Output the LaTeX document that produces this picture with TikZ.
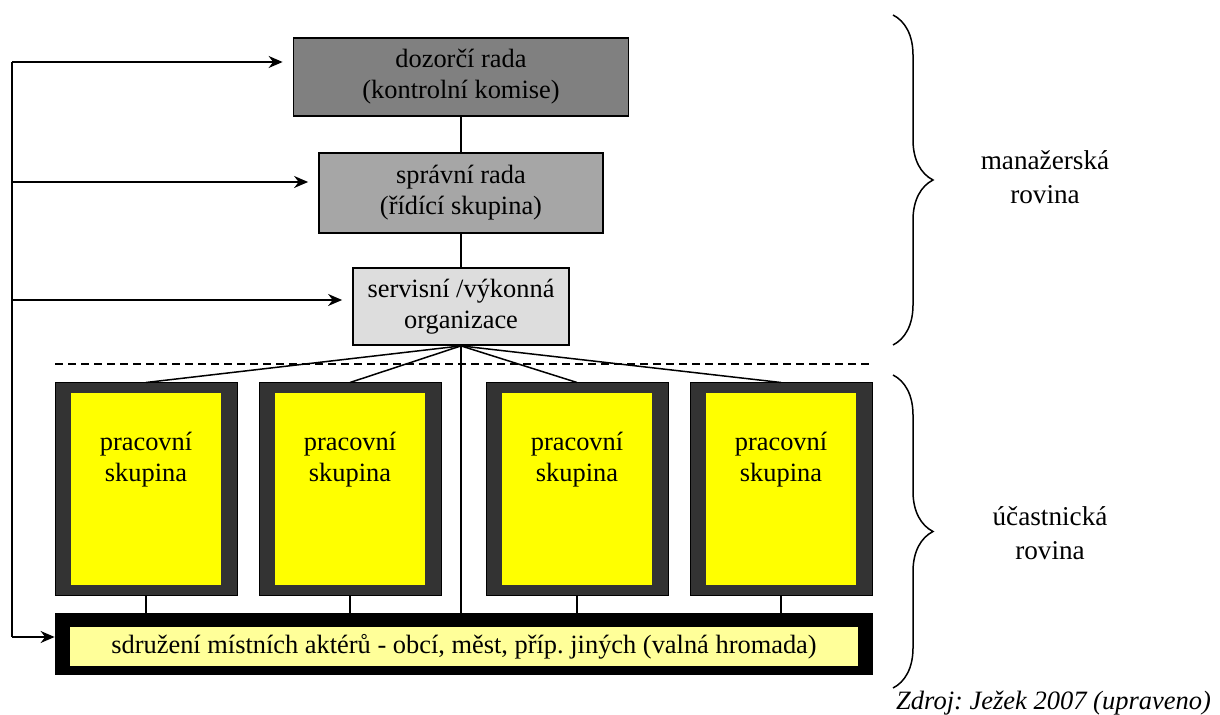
\documentclass[tikz,border=0pt]{standalone}
\usepackage{fontspec}
\setmainfont{Liberation Serif}
\frenchspacing
\usepackage{tikz}
\usetikzlibrary{arrows.meta, calc, positioning, decorations.pathreplacing}

\definecolor{dozorgray}{HTML}{808080}
\definecolor{spravgray}{HTML}{A6A6A6}
\definecolor{servgray}{HTML}{DDDDDD}
\definecolor{wgdark}{HTML}{333333}
\definecolor{wgyellow}{HTML}{FFFF00}
\definecolor{sdryellow}{HTML}{FFFF99}

\begin{document}
\begin{tikzpicture}[x=0.5pt, y=-0.5pt,
    every node/.style={font=\fontsize{13.2}{15.5}\selectfont, align=center},
    lvltext/.style={font=\fontsize{13.6}{17}\selectfont},
    mgbox/.style={draw=black, line width=0.9pt, inner sep=0pt},
    wgout/.style={draw=black, line width=0.5pt, fill=wgdark, minimum width=91pt, minimum height=106pt},
    wgin/.style={fill=wgyellow, minimum width=75pt, minimum height=95.5pt},
    conn/.style={line width=0.75pt},
    arr/.style={line width=0.75pt, -{Stealth[length=7pt, width=6pt]}, shorten >=5pt},
    lvlbrace/.style={decorate, decoration={brace, amplitude=20pt}, line width=0.75pt},
  ]
  \useasboundingbox (0,0) rectangle (1220,715);

  % managerial level
  \node[mgbox, fill=dozorgray, minimum width=167.5pt, minimum height=39pt] (dozor) at (461,77) {dozorčí rada\\(kontrolní komise)};
  \node[mgbox, fill=spravgray, minimum width=142pt, minimum height=40pt] (sprav) at (461,193) {správní rada\\(řídící skupina)};
  \node[mgbox, fill=servgray, minimum width=108pt, minimum height=38.5pt] (serv) at (461,306.5) {servisní /výkonná\\organizace};
  \draw[conn] (dozor) -- (sprav);
  \draw[conn] (sprav) -- (serv);

  % participant level
  \draw[conn, dashed, dash pattern=on 4pt off 2.5pt] (55,364) -- (873,364);
  \node[fill=black, minimum width=409pt, minimum height=31pt] (sdr) at (464,644) {};
  \node[fill=sdryellow, minimum width=394pt, minimum height=18.5pt] (sdrin) at (464,646.5) {sdružení místních aktérů - obcí, měst, příp. jiných (valná hromada)};
  \foreach \i/\x in {1/146, 2/350, 3/577, 4/781} {
    \node[wgout] (wg\i) at (\x,489) {};
    \node[wgin] at (wg\i) {};
    \node (wgt\i) at (\x,460) {pracovní\\skupina};
    \draw[conn] (serv.south) -- (wg\i.north);
    \draw[conn] (wg\i.south) -- (wg\i.south |- sdr.north);
  }
  \draw[conn] (serv.south) -- (serv.south |- sdr.north);

  % feedback rail
  \coordinate (r1) at (12,62);
  \coordinate (r2) at (12,182);
  \coordinate (r3) at (12,300);
  \coordinate (r4) at (12,637);
  \draw[conn] (r1) -- (r4);
  \draw[arr] (r1) -- (r1 -| dozor.west);
  \draw[arr] (r2) -- (r2 -| sprav.west);
  \draw[arr] (r3) -- (r3 -| serv.west);
  \draw[arr, shorten >=0pt] (r4) -- (r4 -| sdr.west);

  % levels
  \draw[lvlbrace] (893,15) -- (893,345);
  \draw[lvlbrace] (893,375) -- (893,688);
  \node[lvltext] (mglvl) at (1045,177) {manažerská\\rovina};
  \node[lvltext] (uclvl) at (1050,533) {účastnická\\rovina};

  \node[anchor=base east, font=\fontsize{13.25}{15.5}\selectfont\itshape] (zdroj) at (1218,709) {Zdroj: Ježek 2007 (upraveno)};
\end{tikzpicture}
\end{document}
